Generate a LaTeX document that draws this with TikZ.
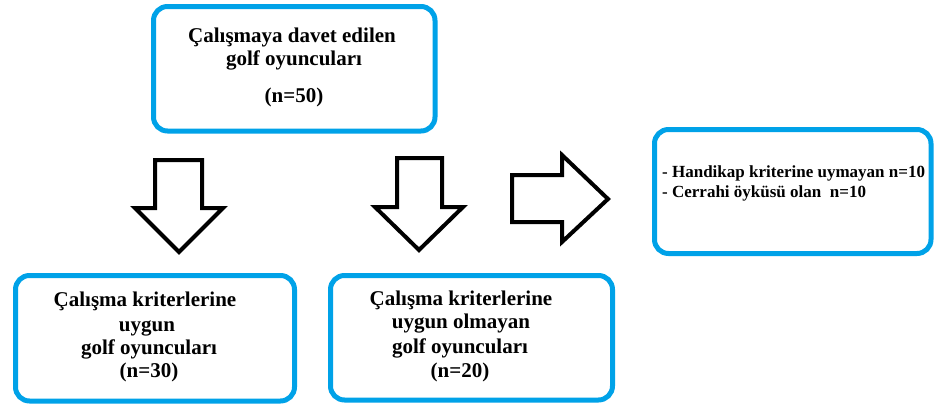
\documentclass[tikz,border=0pt]{standalone}
\usepackage{fontspec}
\setmainfont{Liberation Serif}
\definecolor{boxblue}{RGB}{0,162,232}
\begin{document}
\begin{tikzpicture}[x=1pt,y=1pt,
  flowbox/.style={draw=boxblue,line width=5pt,rounded corners=14pt,fill=white},
  bigarrow/.style={draw=black,line width=4pt,fill=white,line join=miter},
  bigtxt/.style={anchor=base,inner sep=0pt,font=\fontsize{21}{24}\selectfont\bfseries},
  smalltxt/.style={anchor=base west,inner sep=0pt,font=\fontsize{17}{20}\selectfont\bfseries}]
\useasboundingbox (0,0) rectangle (935,-408);
% boxes
\draw[flowbox] (153.5,-6.5) rectangle (435,-131);
\draw[flowbox] (654.5,-129.5) rectangle (931,-253.5);
\draw[flowbox] (15.5,-275.5) rectangle (294.5,-401);
\draw[flowbox] (330.5,-275.5) rectangle (612.5,-400);
% arrows
\draw[bigarrow] (155,-160) -- (202,-160) -- (202,-208) -- (223,-208) -- (179,-252) -- (135,-208) -- (155,-208) -- cycle;
\draw[bigarrow] (397,-158) -- (442,-158) -- (442,-207) -- (463,-207) -- (419,-250) -- (375,-207) -- (397,-207) -- cycle;
\draw[bigarrow] (512,-175) -- (562,-175) -- (562,-155) -- (608,-199) -- (562,-242) -- (562,-222) -- (512,-222) -- cycle;
% top text
\node[bigtxt] (t1) at (292,-42) {Çalışmaya davet edilen};
\node[bigtxt] (t2) at (294,-65) {golf oyuncuları};
\node[bigtxt] (t3) at (294,-102) {(n=50)};
% right text
\node[smalltxt] (r1) at (662,-177) {- Handikap kriterine uymayan n=10};
\node[smalltxt] (r2) at (662,-197) {- Cerrahi öyküsü olan \ n=10};
% bottom left text
\node[bigtxt] (l1) at (145,-306) {Çalışma kriterlerine};
\node[bigtxt] (l2) at (147,-331) {uygun};
\node[bigtxt] (l3) at (149,-354) {golf oyuncuları};
\node[bigtxt] (l4) at (149,-377) {(n=30)};
% bottom middle text
\node[bigtxt] (m1) at (461,-305) {Çalışma kriterlerine};
\node[bigtxt] (m2) at (461,-328) {uygun olmayan};
\node[bigtxt] (m3) at (460,-353) {golf oyuncuları};
\node[bigtxt] (m4) at (460,-377) {(n=20)};
\end{tikzpicture}
\end{document}
